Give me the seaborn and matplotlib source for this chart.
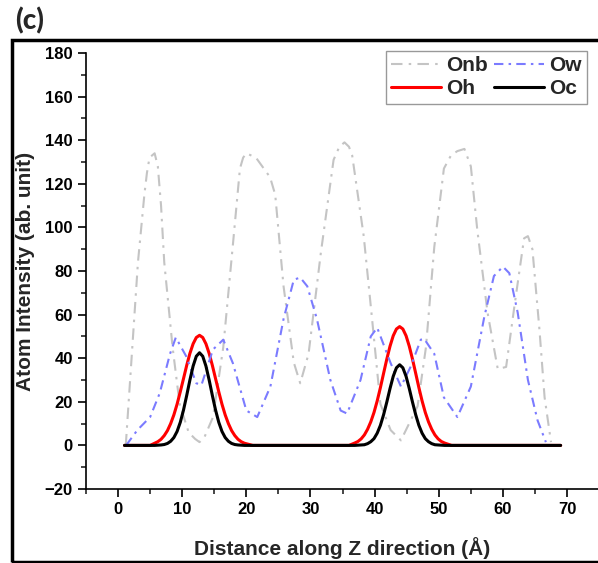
import numpy as np
import pandas as pd
import matplotlib
matplotlib.use("Agg")
import matplotlib.pyplot as plt
import matplotlib.patches as mpatches
from matplotlib.ticker import MultipleLocator
import seaborn as sns

# --- data (Distance in Angstrom, intensity in ab. unit) ---
onb_x = [1.2, 3.1, 4.1, 4.5, 4.9, 5.7, 6.2, 6.7, 7.2, 8.5, 9.6, 11.0, 12.0, 12.7, 13.5, 14.8,
         16.4, 17.9, 19.0, 19.5, 20.0, 21.5, 23.7, 24.5, 25.8, 27.4, 28.4, 29.7, 31.6, 33.6,
         34.5, 35.3, 36.0, 36.5, 38.3, 39.6, 40.9, 42.5, 44.1, 46.7, 48.0, 49.3, 50.8, 51.9,
         52.9, 54.0, 55.0, 56.0, 57.6, 59.2, 60.5, 61.8, 63.3, 63.9, 64.6, 65.7, 66.5, 67.5]
onb_y = [0, 84, 115, 125, 132, 134, 128, 110, 84, 45, 19, 6, 3, 1.5, 4, 13,
         45, 92, 127, 132, 134, 132, 123, 115, 73, 38, 28.5, 42, 88, 131,
         137, 139, 137, 133, 96, 58, 19, 7, 2.3, 18, 45, 91, 127, 133,
         135, 136, 128, 99, 61, 35, 36, 64, 95, 96, 90, 53, 22, 1.5]

ow_x = [1.25, 3.0, 5.0, 6.5, 8.1, 9.0, 10.6, 12.2, 13.0, 14.8, 16.4, 17.9, 20.0, 21.7,
        23.75, 25.8, 27.4, 28.4, 29.5, 31.0, 33.1, 34.7, 35.7, 37.8, 39.4, 40.4, 42.5,
        44.1, 45.6, 47.2, 47.7, 49.3, 50.8, 52.9, 55.0, 57.1, 58.6, 60.0, 61.0, 62.3,
        63.9, 65.4, 66.7]
ow_y = [0, 7, 13, 24, 42, 49.5, 41, 28.5, 27.7, 44, 48.5, 37.7, 16, 13,
        27, 58, 76, 77, 73, 58, 30, 16, 14.6, 30, 50, 54, 37.7,
        27, 36, 48.5, 49, 42, 22, 13, 27, 59, 77.7, 82, 79, 61,
        30, 11.5, 1.5]

oh_x = [1, 3, 5,
        5.7, 6.2, 6.7, 7.2, 7.7, 8.2, 8.7, 9.2, 9.7, 10.2, 10.7, 11.2, 11.7, 12.2, 12.7,
        13.2, 13.7, 14.2, 14.7, 15.2, 15.7, 16.2, 16.7, 17.2, 17.7, 18.2, 18.7, 19.2, 19.7,
        21, 24, 27, 30, 33, 36,
        36.9, 37.4, 37.9, 38.4, 38.9, 39.4, 39.9, 40.4, 40.9, 41.4, 41.9, 42.4, 42.9, 43.4, 43.9,
        44.4, 44.9, 45.4, 45.9, 46.4, 46.9, 47.4, 47.9, 48.4, 48.9, 49.4, 49.9, 50.4, 50.9,
        52, 56, 60, 64, 69]
oh_y = [0, 0, 0,
        1.0, 1.7, 2.8, 4.5, 6.8, 10.0, 14.0, 18.9, 24.6, 30.6, 36.7, 42.2, 46.6, 49.5, 50.5,
        49.5, 46.6, 42.2, 36.7, 30.6, 24.6, 18.9, 14.0, 10.0, 6.8, 4.5, 2.8, 1.7, 1.0,
        0, 0, 0, 0, 0, 0,
        1.1, 1.8, 3.0, 4.8, 7.4, 10.8, 15.1, 20.4, 26.5, 33.1, 39.6, 45.5, 50.3, 53.4, 54.5,
        53.4, 50.3, 45.5, 39.6, 33.1, 26.5, 20.4, 15.1, 10.8, 7.4, 4.8, 3.0, 1.8, 1.1,
        0, 0, 0, 0, 0]
oc_y = [0, 0, 0,
        0.0, 0.1, 0.2, 0.4, 0.9, 1.9, 3.6, 6.4, 10.6, 16.2, 22.9, 30.0, 36.4, 40.9, 42.5,
        40.9, 36.4, 30.0, 22.9, 16.2, 10.6, 6.4, 3.6, 1.9, 0.9, 0.4, 0.2, 0.1, 0.0,
        0, 0, 0, 0, 0, 0,
        0.0, 0.1, 0.2, 0.3, 0.8, 1.7, 3.1, 5.6, 9.2, 14.1, 19.9, 26.1, 31.7, 35.6, 37.0,
        35.6, 31.7, 26.1, 19.9, 14.1, 9.2, 5.6, 3.1, 1.7, 0.8, 0.3, 0.2, 0.1, 0.0,
        0, 0, 0, 0, 0]

sns.set_style("ticks")
plt.rcParams["font.family"] = ["Liberation Sans", "DejaVu Sans"]
plt.rcParams["font.weight"] = "bold"

fig = plt.figure(figsize=(5.98, 5.63), dpi=100)
ax = fig.add_axes([86/598, 1-489/563, 80*6.414/598, 436/563])

sns.lineplot(x=onb_x, y=onb_y, ax=ax, color="#c4c4c4", linewidth=1.5,
             linestyle=(0, (5.5, 3, 1.2, 3)), label="Onb")
sns.lineplot(x=oh_x, y=oh_y, ax=ax, color="#ff0000", linewidth=2.2, label="Oh")
sns.lineplot(x=ow_x, y=ow_y, ax=ax, color="#7b7bff", linewidth=1.5,
             linestyle=(0, (4.5, 2.5, 1.2, 2.5)), label="Ow")
sns.lineplot(x=oh_x, y=oc_y, ax=ax, color="#000000", linewidth=2.2, label="Oc")

ax.set_xlim(-5, 75)
ax.set_ylim(-20, 180)
ax.xaxis.set_major_locator(MultipleLocator(10))
ax.xaxis.set_minor_locator(MultipleLocator(5))
ax.yaxis.set_major_locator(MultipleLocator(20))
ax.yaxis.set_minor_locator(MultipleLocator(10))
ax.tick_params(which="major", direction="out", length=6, width=1.2, labelsize=12, colors="black")
ax.tick_params(which="minor", direction="out", length=3.5, width=1.2)
for lab in ax.get_xticklabels() + ax.get_yticklabels():
    lab.set_fontweight("bold")
ax.spines["top"].set_visible(False)
ax.spines["right"].set_visible(False)
for s in ["left", "bottom"]:
    ax.spines[s].set_linewidth(1.2)
    ax.spines[s].set_color("black")
ax.set_facecolor("white")

ax.set_xlabel("Distance along Z direction (Å)", fontsize=15, fontweight="bold", labelpad=14)
ax.set_ylabel("Atom Intensity (ab. unit)", fontsize=15, fontweight="bold", labelpad=7)

leg = ax.legend(loc="upper right", ncol=2, fontsize=15, frameon=True, fancybox=False,
                handlelength=2.4, handletextpad=0.25, columnspacing=0.3, labelspacing=0.2,
                borderpad=0.25, bbox_to_anchor=(587/598, 1-51/563),
                bbox_transform=fig.transFigure, borderaxespad=0)
leg.get_frame().set_edgecolor("#808080")
leg.get_frame().set_linewidth(1.0)
for t in leg.get_texts():
    t.set_fontweight("bold")

# outer panel frame, cut off on the right like the reference
frame = mpatches.Rectangle((12/598, 1.5/563), 1.0, 1-41/563, transform=fig.transFigure,
                           fill=False, edgecolor="black", linewidth=2.5, clip_on=False)
fig.add_artist(frame)
fig.text(15/598, 1-29/563, "(c)", fontsize=20, fontweight="black", family="Lato",
         va="baseline", ha="left")

fig.savefig("out.png", dpi=100)
